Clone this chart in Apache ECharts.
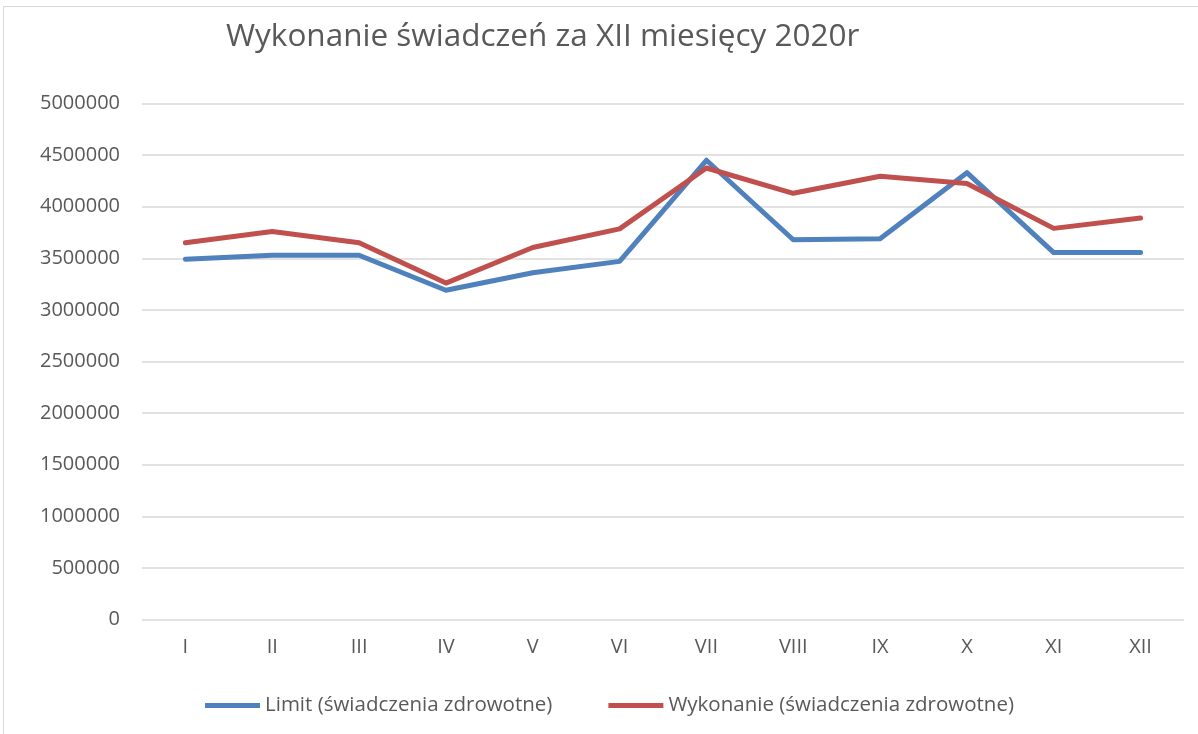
<!DOCTYPE html>
<html>
<head>
<meta charset="utf-8">
<script src="https://cdn.jsdelivr.net/npm/echarts@6/dist/echarts.min.js"></script>
<style>html,body{margin:0;padding:0;background:#fff}#c{width:1198px;height:734px}</style>
</head>
<body>
<div id="c"></div>
<script>
const titleText = 'Wykonanie świadczeń za XII miesięcy 2020r';
const categories = ['I','II','III','IV','V','VI','VII','VIII','IX','X','XI','XII'];
const limitName = 'Limit (świadczenia zdrowotne)';
const wykonanieName = 'Wykonanie (świadczenia zdrowotne)';
const limitValues = [3490000, 3530000, 3530000, 3190000, 3360000, 3470000, 4450000, 3680000, 3690000, 4330000, 3555000, 3555000];
const wykonanieValues = [3650000, 3760000, 3650000, 3260000, 3605000, 3785000, 4375000, 4130000, 4295000, 4225000, 3790000, 3890000];

const font = 'Open Sans';
const chart = echarts.init(document.getElementById('c'), null, {renderer: 'canvas'});
chart.setOption({
  backgroundColor: '#ffffff',
  animation: false,
  title: {
    text: titleText,
    left: 221,
    top: 16,
    textStyle: {fontFamily: font, fontSize: 31.5, fontWeight: 'normal', color: '#595959'}
  },
  legend: {
    left: 200,
    top: 690,
    itemWidth: 55,
    itemHeight: 5,
    itemGap: 56,
    icon: 'rect',
    textStyle: {fontFamily: font, fontSize: 20.5, color: '#595959'},
    data: [limitName, wykonanieName]
  },
  grid: {left: 142, right: 14, top: 103.5, bottom: 114.5, containLabel: false},
  xAxis: {
    type: 'category',
    data: categories,
    boundaryGap: true,
    axisLine: {show: false},
    axisTick: {show: false},
    axisLabel: {fontFamily: font, fontSize: 20, color: '#595959', margin: 18}
  },
  yAxis: {
    type: 'value',
    min: 0,
    max: 5000000,
    interval: 500000,
    axisLine: {show: false},
    axisTick: {show: false},
    axisLabel: {fontFamily: font, fontSize: 20, color: '#595959', margin: 22, formatter: function (v) { return String(v); }},
    splitLine: {lineStyle: {color: '#d9d9d9', width: 1.5}}
  },
  graphic: [
    {type: 'line', shape: {x1: 3.5, y1: 6.5, x2: 1198, y2: 6.5}, style: {stroke: '#d9d9d9', lineWidth: 1}},
    {type: 'line', shape: {x1: 3.5, y1: 6.5, x2: 3.5, y2: 734}, style: {stroke: '#d9d9d9', lineWidth: 1}}
  ],
  series: [
    {
      name: limitName, type: 'line', data: limitValues,
      symbol: 'none', lineStyle: {color: '#4f81bd', width: 5, cap: 'round', join: 'round'},
      itemStyle: {color: '#4f81bd'}
    },
    {
      name: wykonanieName, type: 'line', data: wykonanieValues,
      symbol: 'none', lineStyle: {color: '#c0504d', width: 5, cap: 'round', join: 'round'},
      itemStyle: {color: '#c0504d'}
    }
  ]
});
</script>
</body>
</html>
